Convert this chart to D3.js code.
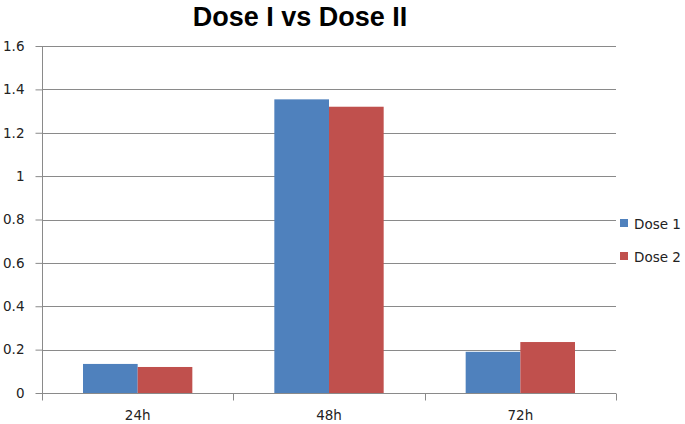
<!DOCTYPE html>
<html><head><meta charset="utf-8">
<script src="https://cdn.jsdelivr.net/npm/d3@7/dist/d3.min.js"></script>
<style>body{margin:0;background:#fff}svg{display:block}</style>
</head><body>
<script>
const categories = ["24h", "48h", "72h"];
const seriesNames = ["Dose 1", "Dose 2"];
const dose1 = [0.134, 1.354, 0.19];
const dose2 = [0.12, 1.32, 0.235];
const yTicks = [0, 0.2, 0.4, 0.6, 0.8, 1, 1.2, 1.4, 1.6];
const colors = ["#4F81BD", "#C0504D"];

const W = 685, H = 424;
const m = {left: 42, right: 69, top: 46, bottom: 31};
const svg = d3.select("body").append("svg").attr("width", W).attr("height", H);

const x = d3.scaleBand().domain(categories).range([m.left, W - m.right]).paddingInner(0).paddingOuter(0);
const y = d3.scaleLinear().domain([0, 1.6]).range([H - m.bottom, m.top]);
const xs = d3.scaleBand().domain(seriesNames).range([0, x.bandwidth()]).paddingInner(0).paddingOuter(0.75);
const grid = "#8a8a8a";
const font = "DejaVu Sans, Verdana, sans-serif";

// gridlines
svg.append("g").selectAll("line").data(yTicks.filter(d => d > 0)).join("line")
  .attr("x1", m.left).attr("x2", W - m.right)
  .attr("y1", d => Math.round(y(d)) + 0.5).attr("y2", d => Math.round(y(d)) + 0.5)
  .attr("stroke", grid).attr("stroke-width", 1);

// y axis
const ya = svg.append("g").attr("transform", `translate(${m.left + 0.5},0)`)
  .call(d3.axisLeft(y).tickValues(yTicks).tickSize(7).tickPadding(11).tickFormat(d => String(d)));
ya.select(".domain").attr("stroke", grid).attr("d", `M-0,${y(1.6)}V${y(0) + 1}`);
ya.selectAll(".tick line").attr("stroke", grid);
ya.selectAll(".tick text").attr("font-family", font).attr("font-size", "13.5px").attr("fill", "#222");

// bars
const data = categories.map((c, i) => ({c, vals: [dose1[i], dose2[i]]}));
const g = svg.append("g");
data.forEach(d => {
  d.vals.forEach((v, j) => {
    g.append("rect")
      .attr("x", x(d.c) + xs(seriesNames[j]))
      .attr("width", xs.bandwidth())
      .attr("y", y(v))
      .attr("height", y(0) - y(v))
      .attr("fill", colors[j]);
  });
});

// x axis
const xa = svg.append("g").attr("transform", `translate(0,${Math.round(y(0)) + 0.5})`)
  .call(d3.axisBottom(x).tickSize(0).tickPadding(17));
xa.select(".domain").attr("stroke", grid).attr("d", `M${m.left},0H${W - m.right}`);
xa.selectAll(".tick text").attr("font-family", font).attr("font-size", "13.5px").attr("fill", "#222");
// category boundary ticks
const bounds = categories.map(c => x(c)).concat([x(categories[categories.length - 1]) + x.bandwidth()]);
xa.append("g").selectAll("line").data(bounds).join("line")
  .attr("x1", d => Math.round(d) + 0.5).attr("x2", d => Math.round(d) + 0.5)
  .attr("y1", 0).attr("y2", 7).attr("stroke", grid);

// title
svg.append("text").attr("x", 300).attr("y", 26).attr("text-anchor", "middle")
  .attr("font-family", "Liberation Sans, Arial, sans-serif")
  .attr("font-weight", "bold").attr("font-size", "27px").attr("fill", "#000")
  .text("Dose I vs Dose II");

// legend
const lg = svg.append("g");
seriesNames.forEach((s, i) => {
  const yy = 219 + i * 33;
  lg.append("rect").attr("x", 620).attr("y", yy).attr("width", 8).attr("height", 8).attr("fill", colors[i]);
  lg.append("text").attr("x", 634).attr("y", yy + 10).attr("font-family", font)
    .attr("font-size", "13.5px").attr("fill", "#222").text(s);
});
</script>
</body></html>
